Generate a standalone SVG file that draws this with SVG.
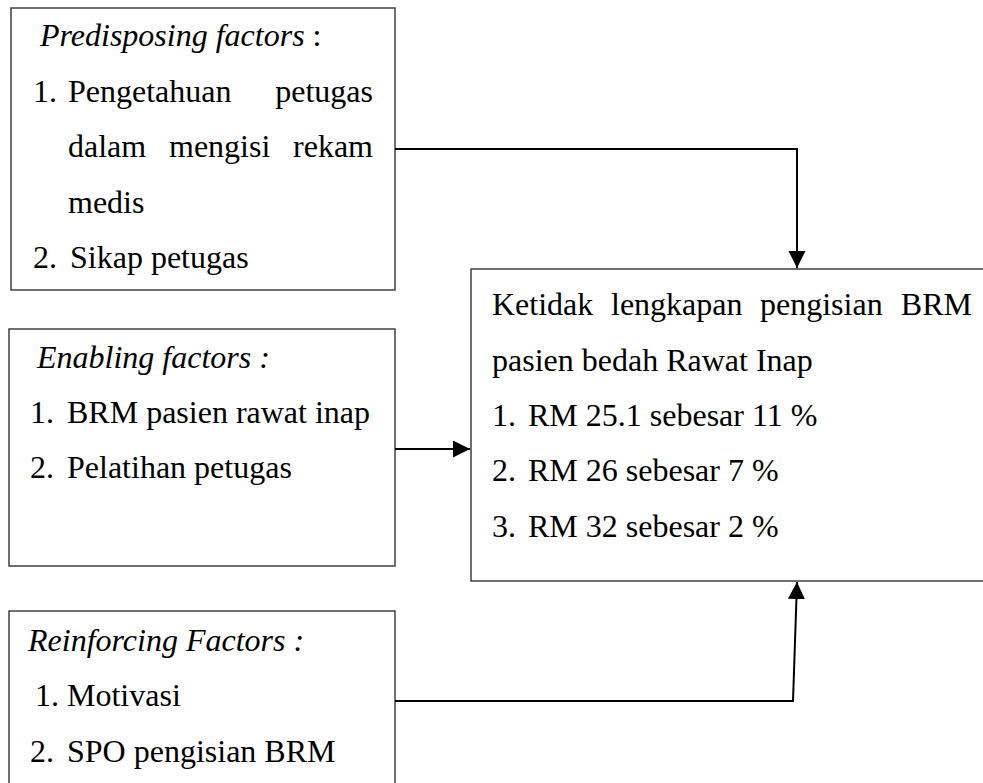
<svg xmlns="http://www.w3.org/2000/svg" width="983" height="783" viewBox="0 0 983 783">
<style>
.box{fill:#fff;stroke:#333;stroke-width:1.4}
text{font-family:"Liberation Serif","Times New Roman",serif;font-size:32px;fill:#000}
.it{font-style:italic}
.conn{fill:none;stroke:#000;stroke-width:2}
</style>
<defs>
<marker id="arr" markerUnits="userSpaceOnUse" markerWidth="18" markerHeight="18" refX="17" refY="8.5" orient="auto">
<path d="M0,0 L17,8.5 L0,17 Z" fill="#000"/>
</marker>
</defs>
<rect width="983" height="783" fill="#fff"/>
<g id="predisposing">
<rect class="box" x="11" y="8" width="384" height="282"/>
<text x="40" y="46"><tspan class="it">Predisposing factors</tspan> :</text>
<text x="33" y="102">1.</text>
<text x="68" y="102">Pengetahuan</text>
<text x="373" y="102" text-anchor="end">petugas</text>
<text x="68" y="157">dalam</text>
<text x="169" y="157">mengisi</text>
<text x="373" y="157" text-anchor="end">rekam</text>
<text x="68" y="213">medis</text>
<text x="33" y="268">2.</text>
<text x="70" y="268">Sikap petugas</text>
</g>
<g id="enabling">
<rect class="box" x="9" y="329" width="386" height="237"/>
<text x="37" y="368" class="it">Enabling factors :</text>
<text x="30" y="423">1.</text>
<text x="67" y="423">BRM pasien rawat inap</text>
<text x="30" y="478">2.</text>
<text x="67" y="478">Pelatihan petugas</text>
</g>
<g id="reinforcing">
<rect class="box" x="9" y="611" width="386" height="200"/>
<text x="28" y="651" class="it">Reinforcing Factors :</text>
<text x="35" y="706">1.</text>
<text x="67" y="706">Motivasi</text>
<text x="30" y="762">2.</text>
<text x="67" y="762">SPO pengisian BRM</text>
</g>
<g id="outcome">
<rect class="box" x="471" y="269" width="540" height="312"/>
<text x="492" y="315">Ketidak</text>
<text x="611" y="315">lengkapan</text>
<text x="760" y="315">pengisian</text>
<text x="972" y="315" text-anchor="end">BRM</text>
<text x="492" y="371">pasien bedah Rawat Inap</text>
<text x="492" y="426">1.</text>
<text x="528" y="426">RM 25.1 sebesar 11 %</text>
<text x="492" y="481">2.</text>
<text x="528" y="481">RM 26 sebesar 7 %</text>
<text x="492" y="537">3.</text>
<text x="528" y="537">RM 32 sebesar 2 %</text>
</g>
<g id="connectors">
<polyline class="conn" points="395,149 797,149 797,268" marker-end="url(#arr)"/>
<polyline class="conn" points="395,449 470,449" marker-end="url(#arr)"/>
<polyline class="conn" points="395,701 793,701 797,582" marker-end="url(#arr)"/>
</g>
</svg>
